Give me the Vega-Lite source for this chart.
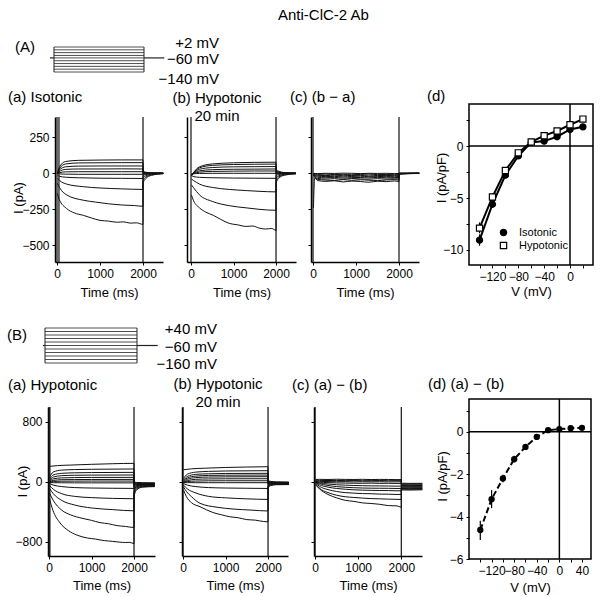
{
"$schema": "https://vega.github.io/schema/vega-lite/v6.json",
"padding": {"left": 7, "top": 8, "right": 2, "bottom": 2},
"title": {"text": "Anti-ClC-2 Ab", "anchor": "start", "frame": "bounds", "dx": 271, "offset": -2, "fontSize": 15, "baseline": "bottom"},
"columns": 4,
"spacing": 0,
"bounds": "flush",
"align": "each",
"datasets": {
"Aa": [
{"k":1,"t":10,"i":0},{"k":1,"t":50,"i":40},{"k":1,"t":200,"i":82},{"k":1,"t":500,"i":90},{"k":1,"t":1000,"i":92},{"k":1,"t":1500,"i":93},{"k":1,"t":2000,"i":93},{"k":1,"t":2001,"i":15},{"k":1,"t":2060,"i":8},{"k":1,"t":2200,"i":3},{"k":1,"t":2470,"i":2},
{"k":2,"t":10,"i":0},{"k":2,"t":50,"i":30},{"k":2,"t":200,"i":65},{"k":2,"t":500,"i":72},{"k":2,"t":1000,"i":73},{"k":2,"t":1500,"i":74},{"k":2,"t":2000,"i":74},{"k":2,"t":2001,"i":10},{"k":2,"t":2060,"i":6},{"k":2,"t":2200,"i":2},{"k":2,"t":2470,"i":1},
{"k":3,"t":10,"i":0},{"k":3,"t":50,"i":22},{"k":3,"t":200,"i":45},{"k":3,"t":500,"i":50},{"k":3,"t":1000,"i":51},{"k":3,"t":1500,"i":51},{"k":3,"t":2000,"i":51},{"k":3,"t":2001,"i":6},{"k":3,"t":2060,"i":4},{"k":3,"t":2200,"i":2},{"k":3,"t":2470,"i":1},
{"k":4,"t":10,"i":0},{"k":4,"t":50,"i":12},{"k":4,"t":200,"i":27},{"k":4,"t":500,"i":30},{"k":4,"t":1000,"i":30},{"k":4,"t":1500,"i":31},{"k":4,"t":2000,"i":30},{"k":4,"t":2001,"i":2},{"k":4,"t":2060,"i":1},{"k":4,"t":2200,"i":1},{"k":4,"t":2470,"i":0},
{"k":5,"t":10,"i":0},{"k":5,"t":50,"i":4},{"k":5,"t":200,"i":10},{"k":5,"t":500,"i":11},{"k":5,"t":1000,"i":11},{"k":5,"t":1500,"i":11},{"k":5,"t":2000,"i":11},{"k":5,"t":2001,"i":-3},{"k":5,"t":2060,"i":-2},{"k":5,"t":2200,"i":-1},{"k":5,"t":2470,"i":0},
{"k":6,"t":10,"i":0},{"k":6,"t":50,"i":-4},{"k":6,"t":200,"i":-6},{"k":6,"t":500,"i":-7},{"k":6,"t":1000,"i":-7},{"k":6,"t":1500,"i":-7},{"k":6,"t":2000,"i":-7},{"k":6,"t":2001,"i":-8},{"k":6,"t":2060,"i":-5},{"k":6,"t":2200,"i":-2},{"k":6,"t":2470,"i":0},
{"k":7,"t":10,"i":-12},{"k":7,"t":50,"i":-20},{"k":7,"t":200,"i":-27},{"k":7,"t":500,"i":-31},{"k":7,"t":1000,"i":-34},{"k":7,"t":1500,"i":-35},{"k":7,"t":2000,"i":-36},{"k":7,"t":2001,"i":-15},{"k":7,"t":2060,"i":-9},{"k":7,"t":2200,"i":-3},{"k":7,"t":2470,"i":-1},
{"k":8,"t":10,"i":-35},{"k":8,"t":60,"i":-50},{"k":8,"t":225,"i":-75},{"k":8,"t":612,"i":-93},{"k":8,"t":1000,"i":-102},{"k":8,"t":1500,"i":-108},{"k":8,"t":2000,"i":-112},{"k":8,"t":2001,"i":-30},{"k":8,"t":2060,"i":-18},{"k":8,"t":2200,"i":-6},{"k":8,"t":2470,"i":-1},
{"k":9,"t":10,"i":-70},{"k":9,"t":60,"i":-100},{"k":9,"t":225,"i":-150},{"k":9,"t":612,"i":-187},{"k":9,"t":900,"i":-200},{"k":9,"t":1200,"i":-212},{"k":9,"t":1500,"i":-220},{"k":9,"t":1800,"i":-224},{"k":9,"t":2000,"i":-229},{"k":9,"t":2001,"i":-50},{"k":9,"t":2060,"i":-28},{"k":9,"t":2200,"i":-10},{"k":9,"t":2470,"i":-2},
{"k":10,"t":10,"i":-140},{"k":10,"t":50,"i":-180},{"k":10,"t":225,"i":-245},{"k":10,"t":400,"i":-275},{"k":10,"t":612,"i":-292},{"k":10,"t":800,"i":-310},{"k":10,"t":1000,"i":-327},{"k":10,"t":1200,"i":-332},{"k":10,"t":1400,"i":-340},{"k":10,"t":1550,"i":-337},{"k":10,"t":1700,"i":-346},{"k":10,"t":1850,"i":-344},{"k":10,"t":2000,"i":-355},{"k":10,"t":2001,"i":-70},{"k":10,"t":2060,"i":-38},{"k":10,"t":2200,"i":-14},{"k":10,"t":2470,"i":-3}
],
"Ab": [
{"k":1,"t":10,"i":-20},{"k":1,"t":50,"i":0},{"k":1,"t":200,"i":45},{"k":1,"t":500,"i":65},{"k":1,"t":1000,"i":73},{"k":1,"t":1500,"i":76},{"k":1,"t":2000,"i":77},{"k":1,"t":2001,"i":28},{"k":1,"t":2060,"i":15},{"k":1,"t":2200,"i":5},{"k":1,"t":2470,"i":2},
{"k":2,"t":10,"i":-15},{"k":2,"t":50,"i":0},{"k":2,"t":200,"i":38},{"k":2,"t":500,"i":55},{"k":2,"t":1000,"i":61},{"k":2,"t":1500,"i":63},{"k":2,"t":2000,"i":64},{"k":2,"t":2001,"i":20},{"k":2,"t":2060,"i":10},{"k":2,"t":2200,"i":4},{"k":2,"t":2470,"i":1},
{"k":3,"t":10,"i":-12},{"k":3,"t":50,"i":0},{"k":3,"t":200,"i":28},{"k":3,"t":500,"i":40},{"k":3,"t":1000,"i":45},{"k":3,"t":1500,"i":46},{"k":3,"t":2000,"i":47},{"k":3,"t":2001,"i":12},{"k":3,"t":2060,"i":6},{"k":3,"t":2200,"i":2},{"k":3,"t":2470,"i":1},
{"k":4,"t":10,"i":-10},{"k":4,"t":50,"i":-2},{"k":4,"t":200,"i":17},{"k":4,"t":500,"i":25},{"k":4,"t":1000,"i":28},{"k":4,"t":1500,"i":29},{"k":4,"t":2000,"i":30},{"k":4,"t":2001,"i":5},{"k":4,"t":2060,"i":3},{"k":4,"t":2200,"i":1},{"k":4,"t":2470,"i":0},
{"k":5,"t":10,"i":-8},{"k":5,"t":50,"i":-3},{"k":5,"t":200,"i":8},{"k":5,"t":500,"i":13},{"k":5,"t":1000,"i":15},{"k":5,"t":1500,"i":16},{"k":5,"t":2000,"i":16},{"k":5,"t":2001,"i":0},{"k":5,"t":2060,"i":0},{"k":5,"t":2200,"i":0},{"k":5,"t":2470,"i":0},
{"k":6,"t":10,"i":-6},{"k":6,"t":50,"i":-4},{"k":6,"t":200,"i":-1},{"k":6,"t":500,"i":0},{"k":6,"t":1000,"i":0},{"k":6,"t":1500,"i":0},{"k":6,"t":2000,"i":0},{"k":6,"t":2001,"i":-6},{"k":6,"t":2060,"i":-3},{"k":6,"t":2200,"i":-1},{"k":6,"t":2470,"i":0},
{"k":7,"t":10,"i":-15},{"k":7,"t":50,"i":-22},{"k":7,"t":200,"i":-28},{"k":7,"t":500,"i":-31},{"k":7,"t":1000,"i":-33},{"k":7,"t":1500,"i":-34},{"k":7,"t":2000,"i":-35},{"k":7,"t":2001,"i":-15},{"k":7,"t":2060,"i":-9},{"k":7,"t":2200,"i":-3},{"k":7,"t":2470,"i":-1},
{"k":8,"t":10,"i":-40},{"k":8,"t":60,"i":-50},{"k":8,"t":200,"i":-75},{"k":8,"t":500,"i":-98},{"k":8,"t":900,"i":-112},{"k":8,"t":1300,"i":-120},{"k":8,"t":1600,"i":-125},{"k":8,"t":2000,"i":-129},{"k":8,"t":2001,"i":-32},{"k":8,"t":2060,"i":-18},{"k":8,"t":2200,"i":-7},{"k":8,"t":2470,"i":-2},
{"k":9,"t":10,"i":-80},{"k":9,"t":60,"i":-100},{"k":9,"t":200,"i":-150},{"k":9,"t":500,"i":-195},{"k":9,"t":900,"i":-225},{"k":9,"t":1300,"i":-240},{"k":9,"t":1600,"i":-250},{"k":9,"t":2000,"i":-257},{"k":9,"t":2001,"i":-48},{"k":9,"t":2060,"i":-26},{"k":9,"t":2200,"i":-10},{"k":9,"t":2470,"i":-3},
{"k":10,"t":10,"i":-150},{"k":10,"t":60,"i":-190},{"k":10,"t":200,"i":-240},{"k":10,"t":350,"i":-270},{"k":10,"t":525,"i":-292},{"k":10,"t":700,"i":-320},{"k":10,"t":900,"i":-348},{"k":10,"t":1100,"i":-358},{"k":10,"t":1300,"i":-369},{"k":10,"t":1450,"i":-366},{"k":10,"t":1600,"i":-380},{"k":10,"t":1750,"i":-387},{"k":10,"t":1900,"i":-383},{"k":10,"t":2000,"i":-397},{"k":10,"t":2001,"i":-68},{"k":10,"t":2060,"i":-36},{"k":10,"t":2200,"i":-13},{"k":10,"t":2470,"i":-3}
],
"Ac": [
{"k":1,"t":10,"i":0},{"k":1,"t":100,"i":-2},{"k":1,"t":300,"i":0},{"k":1,"t":500,"i":-1},{"k":1,"t":700,"i":1},{"k":1,"t":900,"i":0},{"k":1,"t":1100,"i":-2},{"k":1,"t":1300,"i":0},{"k":1,"t":1500,"i":-1},{"k":1,"t":1700,"i":0},{"k":1,"t":1900,"i":-2},{"k":1,"t":2000,"i":-1},{"k":1,"t":2001,"i":2},{"k":1,"t":2200,"i":1},{"k":1,"t":2470,"i":2},
{"k":2,"t":10,"i":-3},{"k":2,"t":100,"i":-8},{"k":2,"t":300,"i":-6},{"k":2,"t":500,"i":-9},{"k":2,"t":700,"i":-7},{"k":2,"t":900,"i":-10},{"k":2,"t":1100,"i":-8},{"k":2,"t":1300,"i":-6},{"k":2,"t":1500,"i":-9},{"k":2,"t":1700,"i":-8},{"k":2,"t":1900,"i":-10},{"k":2,"t":2000,"i":-8},{"k":2,"t":2001,"i":0},{"k":2,"t":2200,"i":1},{"k":2,"t":2470,"i":0},
{"k":3,"t":10,"i":-5},{"k":3,"t":100,"i":-14},{"k":3,"t":300,"i":-16},{"k":3,"t":500,"i":-13},{"k":3,"t":700,"i":-17},{"k":3,"t":900,"i":-15},{"k":3,"t":1100,"i":-14},{"k":3,"t":1300,"i":-18},{"k":3,"t":1500,"i":-15},{"k":3,"t":1700,"i":-16},{"k":3,"t":1900,"i":-14},{"k":3,"t":2000,"i":-17},{"k":3,"t":2001,"i":-1},{"k":3,"t":2200,"i":0},{"k":3,"t":2470,"i":0},
{"k":4,"t":10,"i":-6},{"k":4,"t":100,"i":-20},{"k":4,"t":300,"i":-23},{"k":4,"t":500,"i":-21},{"k":4,"t":700,"i":-25},{"k":4,"t":900,"i":-22},{"k":4,"t":1100,"i":-20},{"k":4,"t":1300,"i":-24},{"k":4,"t":1500,"i":-23},{"k":4,"t":1700,"i":-21},{"k":4,"t":1900,"i":-24},{"k":4,"t":2000,"i":-22},{"k":4,"t":2001,"i":-2},{"k":4,"t":2200,"i":0},{"k":4,"t":2470,"i":1},
{"k":5,"t":10,"i":-8},{"k":5,"t":100,"i":-27},{"k":5,"t":300,"i":-31},{"k":5,"t":500,"i":-28},{"k":5,"t":700,"i":-33},{"k":5,"t":900,"i":-30},{"k":5,"t":1100,"i":-29},{"k":5,"t":1300,"i":-32},{"k":5,"t":1500,"i":-28},{"k":5,"t":1700,"i":-31},{"k":5,"t":1900,"i":-30},{"k":5,"t":2000,"i":-29},{"k":5,"t":2001,"i":-3},{"k":5,"t":2200,"i":-1},{"k":5,"t":2470,"i":0},
{"k":6,"t":10,"i":-10},{"k":6,"t":100,"i":-35},{"k":6,"t":300,"i":-40},{"k":6,"t":500,"i":-37},{"k":6,"t":700,"i":-42},{"k":6,"t":900,"i":-36},{"k":6,"t":1100,"i":-39},{"k":6,"t":1300,"i":-41},{"k":6,"t":1500,"i":-37},{"k":6,"t":1700,"i":-40},{"k":6,"t":1900,"i":-38},{"k":6,"t":2000,"i":-39},{"k":6,"t":2001,"i":-4},{"k":6,"t":2200,"i":-2},{"k":6,"t":2470,"i":0},
{"k":7,"t":10,"i":-12},{"k":7,"t":100,"i":-42},{"k":7,"t":300,"i":-47},{"k":7,"t":500,"i":-50},{"k":7,"t":700,"i":-44},{"k":7,"t":900,"i":-49},{"k":7,"t":1100,"i":-45},{"k":7,"t":1300,"i":-48},{"k":7,"t":1500,"i":-51},{"k":7,"t":1700,"i":-46},{"k":7,"t":1900,"i":-44},{"k":7,"t":2000,"i":-47},{"k":7,"t":2001,"i":-5},{"k":7,"t":2200,"i":-2},{"k":7,"t":2470,"i":-1},
{"k":8,"t":10,"i":-240},{"k":8,"t":40,"i":-30},{"k":8,"t":100,"i":-50},{"k":8,"t":300,"i":-56},{"k":8,"t":500,"i":-52},{"k":8,"t":700,"i":-60},{"k":8,"t":900,"i":-54},{"k":8,"t":1100,"i":-57},{"k":8,"t":1300,"i":-62},{"k":8,"t":1500,"i":-55},{"k":8,"t":1700,"i":-58},{"k":8,"t":1900,"i":-53},{"k":8,"t":2000,"i":-57},{"k":8,"t":2001,"i":-6},{"k":8,"t":2200,"i":-3},{"k":8,"t":2470,"i":-1}
],
"Ba": [
{"k":1,"t":10,"i":205},{"k":1,"t":200,"i":215},{"k":1,"t":500,"i":222},{"k":1,"t":1000,"i":232},{"k":1,"t":1500,"i":240},{"k":1,"t":2000,"i":245},{"k":1,"t":2001,"i":-5},{"k":1,"t":2060,"i":-10},{"k":1,"t":2200,"i":-14},{"k":1,"t":2490,"i":-15},
{"k":2,"t":10,"i":60},{"k":2,"t":100,"i":130},{"k":2,"t":300,"i":155},{"k":2,"t":600,"i":162},{"k":2,"t":1000,"i":166},{"k":2,"t":2000,"i":170},{"k":2,"t":2001,"i":-15},{"k":2,"t":2060,"i":-15},{"k":2,"t":2200,"i":-18},{"k":2,"t":2490,"i":-20},
{"k":3,"t":10,"i":30},{"k":3,"t":100,"i":90},{"k":3,"t":300,"i":112},{"k":3,"t":600,"i":119},{"k":3,"t":1000,"i":122},{"k":3,"t":2000,"i":125},{"k":3,"t":2001,"i":-25},{"k":3,"t":2060,"i":-20},{"k":3,"t":2200,"i":-22},{"k":3,"t":2490,"i":-24},
{"k":4,"t":10,"i":15},{"k":4,"t":100,"i":62},{"k":4,"t":300,"i":81},{"k":4,"t":600,"i":86},{"k":4,"t":1000,"i":88},{"k":4,"t":2000,"i":90},{"k":4,"t":2001,"i":-35},{"k":4,"t":2060,"i":-26},{"k":4,"t":2200,"i":-26},{"k":4,"t":2490,"i":-28},
{"k":5,"t":10,"i":5},{"k":5,"t":100,"i":38},{"k":5,"t":300,"i":51},{"k":5,"t":600,"i":55},{"k":5,"t":1000,"i":57},{"k":5,"t":2000,"i":58},{"k":5,"t":2001,"i":-45},{"k":5,"t":2060,"i":-32},{"k":5,"t":2200,"i":-30},{"k":5,"t":2490,"i":-32},
{"k":6,"t":10,"i":0},{"k":6,"t":100,"i":18},{"k":6,"t":300,"i":27},{"k":6,"t":600,"i":29},{"k":6,"t":1000,"i":30},{"k":6,"t":2000,"i":31},{"k":6,"t":2001,"i":-55},{"k":6,"t":2060,"i":-38},{"k":6,"t":2200,"i":-34},{"k":6,"t":2490,"i":-35},
{"k":7,"t":10,"i":-5},{"k":7,"t":100,"i":4},{"k":7,"t":300,"i":7},{"k":7,"t":600,"i":8},{"k":7,"t":1000,"i":9},{"k":7,"t":2000,"i":9},{"k":7,"t":2001,"i":-70},{"k":7,"t":2060,"i":-44},{"k":7,"t":2200,"i":-38},{"k":7,"t":2490,"i":-39},
{"k":8,"t":10,"i":-10},{"k":8,"t":100,"i":-13},{"k":8,"t":300,"i":-14},{"k":8,"t":600,"i":-15},{"k":8,"t":1000,"i":-15},{"k":8,"t":2000,"i":-15},{"k":8,"t":2001,"i":-85},{"k":8,"t":2060,"i":-52},{"k":8,"t":2200,"i":-42},{"k":8,"t":2490,"i":-43},
{"k":9,"t":10,"i":-25},{"k":9,"t":100,"i":-45},{"k":9,"t":300,"i":-65},{"k":9,"t":600,"i":-78},{"k":9,"t":1000,"i":-84},{"k":9,"t":1500,"i":-87},{"k":9,"t":2000,"i":-89},{"k":9,"t":2001,"i":-100},{"k":9,"t":2060,"i":-60},{"k":9,"t":2200,"i":-47},{"k":9,"t":2490,"i":-47},
{"k":10,"t":10,"i":-50},{"k":10,"t":100,"i":-100},{"k":10,"t":300,"i":-160},{"k":10,"t":600,"i":-195},{"k":10,"t":1000,"i":-212},{"k":10,"t":1500,"i":-222},{"k":10,"t":2000,"i":-227},{"k":10,"t":2001,"i":-120},{"k":10,"t":2060,"i":-70},{"k":10,"t":2200,"i":-53},{"k":10,"t":2490,"i":-52},
{"k":11,"t":10,"i":-90},{"k":11,"t":100,"i":-160},{"k":11,"t":300,"i":-250},{"k":11,"t":600,"i":-310},{"k":11,"t":1000,"i":-350},{"k":11,"t":1500,"i":-372},{"k":11,"t":2000,"i":-388},{"k":11,"t":2001,"i":-145},{"k":11,"t":2060,"i":-82},{"k":11,"t":2200,"i":-59},{"k":11,"t":2490,"i":-56},
{"k":12,"t":10,"i":-150},{"k":12,"t":100,"i":-250},{"k":12,"t":300,"i":-380},{"k":12,"t":500,"i":-440},{"k":12,"t":800,"i":-490},{"k":12,"t":1000,"i":-515},{"k":12,"t":1200,"i":-545},{"k":12,"t":1400,"i":-560},{"k":12,"t":1600,"i":-585},{"k":12,"t":1800,"i":-596},{"k":12,"t":2000,"i":-610},{"k":12,"t":2001,"i":-170},{"k":12,"t":2060,"i":-95},{"k":12,"t":2200,"i":-66},{"k":12,"t":2490,"i":-60},
{"k":13,"t":10,"i":-230},{"k":13,"t":90,"i":-380},{"k":13,"t":260,"i":-550},{"k":13,"t":450,"i":-650},{"k":13,"t":650,"i":-710},{"k":13,"t":900,"i":-750},{"k":13,"t":1100,"i":-765},{"k":13,"t":1300,"i":-785},{"k":13,"t":1500,"i":-795},{"k":13,"t":1650,"i":-805},{"k":13,"t":1800,"i":-810},{"k":13,"t":1900,"i":-808},{"k":13,"t":2000,"i":-825},{"k":13,"t":2001,"i":-200},{"k":13,"t":2060,"i":-110},{"k":13,"t":2200,"i":-73},{"k":13,"t":2490,"i":-65}
],
"Bb": [
{"k":1,"t":10,"i":160},{"k":1,"t":200,"i":172},{"k":1,"t":500,"i":180},{"k":1,"t":1000,"i":190},{"k":1,"t":1500,"i":196},{"k":1,"t":2000,"i":200},{"k":1,"t":2001,"i":20},{"k":1,"t":2060,"i":5},{"k":1,"t":2200,"i":-3},{"k":1,"t":2490,"i":-5},
{"k":2,"t":10,"i":40},{"k":2,"t":100,"i":100},{"k":2,"t":300,"i":128},{"k":2,"t":600,"i":138},{"k":2,"t":1000,"i":143},{"k":2,"t":2000,"i":147},{"k":2,"t":2001,"i":10},{"k":2,"t":2060,"i":0},{"k":2,"t":2200,"i":-6},{"k":2,"t":2490,"i":-8},
{"k":3,"t":10,"i":20},{"k":3,"t":100,"i":70},{"k":3,"t":300,"i":98},{"k":3,"t":600,"i":106},{"k":3,"t":1000,"i":110},{"k":3,"t":2000,"i":112},{"k":3,"t":2001,"i":0},{"k":3,"t":2060,"i":-5},{"k":3,"t":2200,"i":-9},{"k":3,"t":2490,"i":-11},
{"k":4,"t":10,"i":10},{"k":4,"t":100,"i":50},{"k":4,"t":300,"i":75},{"k":4,"t":600,"i":84},{"k":4,"t":1000,"i":87},{"k":4,"t":2000,"i":89},{"k":4,"t":2001,"i":-8},{"k":4,"t":2060,"i":-10},{"k":4,"t":2200,"i":-12},{"k":4,"t":2490,"i":-14},
{"k":5,"t":10,"i":0},{"k":5,"t":100,"i":32},{"k":5,"t":300,"i":55},{"k":5,"t":600,"i":62},{"k":5,"t":1000,"i":65},{"k":5,"t":2000,"i":67},{"k":5,"t":2001,"i":-15},{"k":5,"t":2060,"i":-14},{"k":5,"t":2200,"i":-15},{"k":5,"t":2490,"i":-17},
{"k":6,"t":10,"i":-5},{"k":6,"t":100,"i":15},{"k":6,"t":300,"i":32},{"k":6,"t":600,"i":37},{"k":6,"t":1000,"i":39},{"k":6,"t":2000,"i":40},{"k":6,"t":2001,"i":-22},{"k":6,"t":2060,"i":-18},{"k":6,"t":2200,"i":-18},{"k":6,"t":2490,"i":-20},
{"k":7,"t":10,"i":-10},{"k":7,"t":100,"i":2},{"k":7,"t":300,"i":9},{"k":7,"t":600,"i":12},{"k":7,"t":1000,"i":13},{"k":7,"t":2000,"i":13},{"k":7,"t":2001,"i":-30},{"k":7,"t":2060,"i":-22},{"k":7,"t":2200,"i":-21},{"k":7,"t":2490,"i":-23},
{"k":8,"t":10,"i":-12},{"k":8,"t":100,"i":-12},{"k":8,"t":300,"i":-13},{"k":8,"t":600,"i":-13},{"k":8,"t":1000,"i":-13},{"k":8,"t":2000,"i":-13},{"k":8,"t":2001,"i":-38},{"k":8,"t":2060,"i":-27},{"k":8,"t":2200,"i":-24},{"k":8,"t":2490,"i":-26},
{"k":9,"t":10,"i":-25},{"k":9,"t":100,"i":-45},{"k":9,"t":300,"i":-65},{"k":9,"t":600,"i":-78},{"k":9,"t":1000,"i":-84},{"k":9,"t":1500,"i":-87},{"k":9,"t":2000,"i":-90},{"k":9,"t":2001,"i":-48},{"k":9,"t":2060,"i":-32},{"k":9,"t":2200,"i":-28},{"k":9,"t":2490,"i":-29},
{"k":10,"t":10,"i":-45},{"k":10,"t":100,"i":-95},{"k":10,"t":300,"i":-150},{"k":10,"t":600,"i":-195},{"k":10,"t":1000,"i":-215},{"k":10,"t":1500,"i":-228},{"k":10,"t":2000,"i":-236},{"k":10,"t":2001,"i":-60},{"k":10,"t":2060,"i":-38},{"k":10,"t":2200,"i":-32},{"k":10,"t":2490,"i":-32},
{"k":11,"t":10,"i":-70},{"k":11,"t":80,"i":-130},{"k":11,"t":200,"i":-200},{"k":11,"t":400,"i":-288},{"k":11,"t":800,"i":-340},{"k":11,"t":1200,"i":-365},{"k":11,"t":1600,"i":-378},{"k":11,"t":2000,"i":-390},{"k":11,"t":2001,"i":-75},{"k":11,"t":2060,"i":-45},{"k":11,"t":2200,"i":-36},{"k":11,"t":2490,"i":-35},
{"k":12,"t":10,"i":-110},{"k":12,"t":80,"i":-200},{"k":12,"t":200,"i":-280},{"k":12,"t":400,"i":-333},{"k":12,"t":700,"i":-410},{"k":12,"t":900,"i":-440},{"k":12,"t":1100,"i":-467},{"k":12,"t":1300,"i":-480},{"k":12,"t":1500,"i":-505},{"k":12,"t":1700,"i":-512},{"k":12,"t":1800,"i":-522},{"k":12,"t":2000,"i":-535},{"k":12,"t":2001,"i":-90},{"k":12,"t":2060,"i":-52},{"k":12,"t":2200,"i":-40},{"k":12,"t":2490,"i":-38}
],
"Bc": [
{"k":1,"t":10,"i":30},{"k":1,"t":100,"i":32},{"k":1,"t":300,"i":30},{"k":1,"t":500,"i":33},{"k":1,"t":700,"i":31},{"k":1,"t":900,"i":30},{"k":1,"t":1100,"i":32},{"k":1,"t":1300,"i":29},{"k":1,"t":1500,"i":31},{"k":1,"t":1700,"i":30},{"k":1,"t":1900,"i":28},{"k":1,"t":2000,"i":29},{"k":1,"t":2001,"i":-20},{"k":1,"t":2200,"i":-22},{"k":1,"t":2490,"i":-21},
{"k":2,"t":10,"i":20},{"k":2,"t":100,"i":18},{"k":2,"t":300,"i":16},{"k":2,"t":500,"i":17},{"k":2,"t":700,"i":15},{"k":2,"t":900,"i":16},{"k":2,"t":1100,"i":14},{"k":2,"t":1300,"i":15},{"k":2,"t":1500,"i":16},{"k":2,"t":1700,"i":14},{"k":2,"t":1900,"i":15},{"k":2,"t":2000,"i":14},{"k":2,"t":2001,"i":-30},{"k":2,"t":2200,"i":-31},{"k":2,"t":2490,"i":-30},
{"k":3,"t":10,"i":10},{"k":3,"t":100,"i":5},{"k":3,"t":300,"i":2},{"k":3,"t":500,"i":0},{"k":3,"t":700,"i":1},{"k":3,"t":900,"i":-2},{"k":3,"t":1100,"i":0},{"k":3,"t":1300,"i":-1},{"k":3,"t":1500,"i":0},{"k":3,"t":1700,"i":-2},{"k":3,"t":1900,"i":-1},{"k":3,"t":2000,"i":0},{"k":3,"t":2001,"i":-40},{"k":3,"t":2200,"i":-42},{"k":3,"t":2490,"i":-41},
{"k":4,"t":10,"i":5},{"k":4,"t":100,"i":-5},{"k":4,"t":300,"i":-12},{"k":4,"t":500,"i":-16},{"k":4,"t":700,"i":-18},{"k":4,"t":900,"i":-20},{"k":4,"t":1100,"i":-21},{"k":4,"t":1300,"i":-19},{"k":4,"t":1500,"i":-22},{"k":4,"t":1700,"i":-21},{"k":4,"t":1900,"i":-23},{"k":4,"t":2000,"i":-22},{"k":4,"t":2001,"i":-50},{"k":4,"t":2200,"i":-52},{"k":4,"t":2490,"i":-50},
{"k":5,"t":10,"i":0},{"k":5,"t":100,"i":-15},{"k":5,"t":300,"i":-30},{"k":5,"t":500,"i":-40},{"k":5,"t":700,"i":-46},{"k":5,"t":900,"i":-50},{"k":5,"t":1100,"i":-53},{"k":5,"t":1300,"i":-55},{"k":5,"t":1500,"i":-56},{"k":5,"t":1700,"i":-57},{"k":5,"t":1900,"i":-59},{"k":5,"t":2000,"i":-58},{"k":5,"t":2001,"i":-60},{"k":5,"t":2200,"i":-62},{"k":5,"t":2490,"i":-61},
{"k":6,"t":10,"i":-5},{"k":6,"t":100,"i":-25},{"k":6,"t":300,"i":-50},{"k":6,"t":500,"i":-65},{"k":6,"t":700,"i":-74},{"k":6,"t":900,"i":-80},{"k":6,"t":1100,"i":-84},{"k":6,"t":1300,"i":-86},{"k":6,"t":1500,"i":-87},{"k":6,"t":1700,"i":-88},{"k":6,"t":1900,"i":-90},{"k":6,"t":2000,"i":-89},{"k":6,"t":2001,"i":-70},{"k":6,"t":2200,"i":-72},{"k":6,"t":2490,"i":-71},
{"k":7,"t":10,"i":-10},{"k":7,"t":100,"i":-40},{"k":7,"t":300,"i":-72},{"k":7,"t":500,"i":-90},{"k":7,"t":700,"i":-100},{"k":7,"t":900,"i":-108},{"k":7,"t":1100,"i":-112},{"k":7,"t":1300,"i":-115},{"k":7,"t":1500,"i":-117},{"k":7,"t":1700,"i":-118},{"k":7,"t":1900,"i":-121},{"k":7,"t":2000,"i":-120},{"k":7,"t":2001,"i":-80},{"k":7,"t":2200,"i":-82},{"k":7,"t":2490,"i":-80},
{"k":8,"t":10,"i":-15},{"k":8,"t":100,"i":-60},{"k":8,"t":300,"i":-105},{"k":8,"t":500,"i":-130},{"k":8,"t":700,"i":-145},{"k":8,"t":900,"i":-152},{"k":8,"t":1100,"i":-158},{"k":8,"t":1300,"i":-160},{"k":8,"t":1500,"i":-165},{"k":8,"t":1700,"i":-166},{"k":8,"t":1900,"i":-170},{"k":8,"t":2000,"i":-169},{"k":8,"t":2001,"i":-90},{"k":8,"t":2200,"i":-92},{"k":8,"t":2490,"i":-90},
{"k":9,"t":10,"i":-25},{"k":9,"t":100,"i":-85},{"k":9,"t":300,"i":-145},{"k":9,"t":500,"i":-180},{"k":9,"t":700,"i":-200},{"k":9,"t":900,"i":-210},{"k":9,"t":1100,"i":-218},{"k":9,"t":1300,"i":-225},{"k":9,"t":1500,"i":-228},{"k":9,"t":1700,"i":-232},{"k":9,"t":1900,"i":-235},{"k":9,"t":2000,"i":-236},{"k":9,"t":2001,"i":-100},{"k":9,"t":2200,"i":-101},{"k":9,"t":2490,"i":-100},
{"k":10,"t":10,"i":-40},{"k":10,"t":100,"i":-95},{"k":10,"t":300,"i":-170},{"k":10,"t":500,"i":-215},{"k":10,"t":700,"i":-248},{"k":10,"t":900,"i":-262},{"k":10,"t":1100,"i":-282},{"k":10,"t":1300,"i":-290},{"k":10,"t":1500,"i":-301},{"k":10,"t":1700,"i":-318},{"k":10,"t":1900,"i":-322},{"k":10,"t":2000,"i":-340},{"k":10,"t":2001,"i":-110},{"k":10,"t":2200,"i":-111},{"k":10,"t":2490,"i":-108}
],
"Ad": [
{"g":"Isotonic","V":-140,"I":-9.05,"lo":-9.6,"hi":-8.5},{"g":"Isotonic","V":-120,"I":-5.6,"lo":-5.95,"hi":-5.25},{"g":"Isotonic","V":-100,"I":-2.8,"lo":-3.05,"hi":-2.55},{"g":"Isotonic","V":-80,"I":-0.95,"lo":-1.1,"hi":-0.8},{"g":"Isotonic","V":-60,"I":0.35,"lo":0.25,"hi":0.45},{"g":"Isotonic","V":-40,"I":0.48,"lo":0.35,"hi":0.6},{"g":"Isotonic","V":-20,"I":0.9,"lo":0.8,"hi":1.0},{"g":"Isotonic","V":0,"I":1.6,"lo":1.5,"hi":1.7},{"g":"Isotonic","V":20,"I":1.85,"lo":1.75,"hi":1.95},
{"g":"Hypotonic","V":-140,"I":-7.9,"lo":-8.4,"hi":-7.35},{"g":"Hypotonic","V":-120,"I":-4.9,"lo":-5.2,"hi":-4.55},{"g":"Hypotonic","V":-100,"I":-2.35,"lo":-2.55,"hi":-2.15},{"g":"Hypotonic","V":-80,"I":-0.65,"lo":-0.8,"hi":-0.5},{"g":"Hypotonic","V":-60,"I":0.4,"lo":0.3,"hi":0.5},{"g":"Hypotonic","V":-40,"I":1.0,"lo":0.9,"hi":1.1},{"g":"Hypotonic","V":-20,"I":1.45,"lo":1.35,"hi":1.55},{"g":"Hypotonic","V":0,"I":2.05,"lo":1.95,"hi":2.15},{"g":"Hypotonic","V":20,"I":2.6,"lo":2.45,"hi":2.75}
],
"Bd": [
{"V":-140,"I":-4.63,"lo":-5.1,"hi":-4.2},{"V":-120,"I":-3.18,"lo":-3.6,"hi":-2.75},{"V":-100,"I":-2.2,"lo":-2.38,"hi":-2.02},{"V":-80,"I":-1.29,"lo":-1.45,"hi":-1.13},{"V":-60,"I":-0.71,"lo":-0.84,"hi":-0.58},{"V":-40,"I":-0.24,"lo":-0.34,"hi":-0.14},{"V":-20,"I":0.08,"lo":0.03,"hi":0.13},{"V":0,"I":0.13,"lo":0.08,"hi":0.18},{"V":20,"I":0.17,"lo":0.12,"hi":0.22},{"V":40,"I":0.19,"lo":0.14,"hi":0.24}
]
},
"concat": [
{
"width": 100, "height": 66,
"layer": [
{"data": {"values": [{"v":2},{"v":-14},{"v":-30},{"v":-46},{"v":-60},{"v":-76},{"v":-92},{"v":-108},{"v":-124},{"v":-140}]},
 "mark": {"type": "rule", "stroke": "#222", "strokeWidth": 0.8},
 "encoding": {"x": {"datum": 0, "type": "quantitative", "scale": {"domain": [-133, 3667], "range": [0, 171]}, "axis": null}, "x2": {"datum": 2000},
  "y": {"field": "v", "type": "quantitative", "scale": {"domain": [-140, 2], "range": [34, 9]}, "axis": null}}},
{"data": {"values": [{"t":0},{"t":2000}]},
 "mark": {"type": "rule", "stroke": "#222", "strokeWidth": 1},
 "encoding": {"x": {"field": "t", "type": "quantitative", "scale": {"domain": [-133, 3667], "range": [0, 171]}, "axis": null},
  "y": {"datum": -140, "type": "quantitative", "scale": {"domain": [-140, 2], "range": [34, 9]}, "axis": null}, "y2": {"datum": 2}}},
{"data": {"values": [{"t":-90,"t2":0},{"t":2000,"t2":2450}]},
 "mark": {"type": "rule", "stroke": "#222", "strokeWidth": 1.2},
 "encoding": {"x": {"field": "t", "type": "quantitative", "scale": {"domain": [-133, 3667], "range": [0, 171]}, "axis": null}, "x2": {"field": "t2"},
  "y": {"datum": -60, "type": "quantitative", "scale": {"domain": [-140, 2], "range": [34, 9]}, "axis": null}}},
{"data": {"values": [{"t":-867,"v":2,"s":"(A)"}]},
 "mark": {"type": "text", "align": "left", "baseline": "middle", "fontSize": 15},
 "encoding": {"x": {"field": "t", "type": "quantitative", "scale": {"domain": [-133, 3667], "range": [0, 171]}, "axis": null},
  "y": {"field": "v", "type": "quantitative", "scale": {"domain": [-140, 2], "range": [34, 9]}, "axis": null}, "text": {"field": "s"}}},
{"data": {"values": [{"v":2,"s":"+2 mV"},{"v":-60,"s":"−60 mV"},{"v":-140,"s":"−140 mV"}]},
 "mark": {"type": "text", "align": "right", "baseline": "middle", "fontSize": 15},
 "encoding": {"x": {"datum": 3667, "type": "quantitative", "scale": {"domain": [-133, 3667], "range": [0, 171]}, "axis": null},
  "y": {"field": "v", "type": "quantitative", "scale": {"domain": [-140, 2], "range": [41, 5]}, "axis": null}, "text": {"field": "s"}}}
],
"resolve": {"scale": {"y": "independent"}}
},
{"width": 1, "height": 1, "data": {"values": []}, "mark": "point"},
{"width": 1, "height": 1, "data": {"values": []}, "mark": "point"},
{"width": 1, "height": 1, "data": {"values": []}, "mark": "point"},
{
"width": 134, "height": 158,
"title": {"text": "(a) Isotonic", "dx": -40, "offset": -1},
"layer": [
{"data": {"values": [{"t":0},{"t":45},{"t":2000}]}, "mark": {"type": "rule", "stroke": "#111", "strokeWidth": 1.2},
 "encoding": {"x": {"field": "t", "type": "quantitative"}, "y": {"datum": 391}, "y2": {"datum": -616}}},
{"data": {"name": "Aa"}, "mark": {"type": "line", "stroke": "#111", "strokeWidth": 1, "interpolate": "monotone"},
 "encoding": {
  "x": {"field": "t", "type": "quantitative", "scale": {"domain": [-47, 2465], "range": [7, 115], "nice": false, "zero": false},
   "axis": {"values": [0,250,500,750,1000,1250,1500,1750,2000,2250], "format": "d", "labelSeparation": -40, "labelExpr": "datum.value % 1000 === 0 ? datum.label : ''", "title": "Time (ms)", "titleY": 30, "titleBaseline": "middle"}},
  "y": {"field": "i", "type": "quantitative", "scale": {"domain": [-616, 391], "range": [158, 13], "nice": false, "zero": false},
   "axis": {"values": [-500,-375,-250,-125,0,125,250,375], "labelSeparation": -40, "labelExpr": "datum.value % 250 === 0 ? datum.label : ''", "title": "I (pA)", "offset": -7, "titleX": -37, "titleY": 93.5, "titleBaseline": "middle"}},
  "detail": {"field": "k", "type": "nominal"}}}
]
},
{
"width": 129, "height": 158,
"title": {"text": ["(b) Hypotonic", "20 min"], "anchor": "middle", "dx": -29.5, "offset": -19.5},
"layer": [
{"data": {"values": [{"t":0},{"t":2000}]}, "mark": {"type": "rule", "stroke": "#111", "strokeWidth": 1.2},
 "encoding": {"x": {"field": "t", "type": "quantitative"}, "y": {"datum": 391}, "y2": {"datum": -616}}},
{"data": {"name": "Ab"}, "mark": {"type": "line", "stroke": "#111", "strokeWidth": 1, "interpolate": "monotone"},
 "encoding": {
  "x": {"field": "t", "type": "quantitative", "scale": {"domain": [-94, 2470], "range": [5, 114], "nice": false, "zero": false},
   "axis": {"values": [0,250,500,750,1000,1250,1500,1750,2000,2250], "format": "d", "labelSeparation": -40, "labelExpr": "datum.value % 1000 === 0 ? datum.label : ''", "title": "Time (ms)", "titleY": 30, "titleBaseline": "middle"}},
  "y": {"field": "i", "type": "quantitative", "scale": {"domain": [-616, 391], "range": [158, 13], "nice": false, "zero": false},
   "axis": {"values": [-500,-375,-250,-125,0,125,250,375], "labels": false, "title": null, "offset": -5}},
  "detail": {"field": "k", "type": "nominal"}}}
]
},
{
"width": 158, "height": 158,
"title": {"text": "(c) (b − a)", "dx": -21, "offset": -1},
"layer": [
{"data": {"values": [{"t":0},{"t":2000}]}, "mark": {"type": "rule", "stroke": "#111", "strokeWidth": 1.2},
 "encoding": {"x": {"field": "t", "type": "quantitative"}, "y": {"datum": 391}, "y2": {"datum": -616}}},
{"data": {"name": "Ac"}, "mark": {"type": "line", "stroke": "#111", "strokeWidth": 1, "interpolate": "monotone"},
 "encoding": {
  "x": {"field": "t", "type": "quantitative", "scale": {"domain": [-47, 2465], "range": [0, 108], "nice": false, "zero": false},
   "axis": {"values": [0,250,500,750,1000,1250,1500,1750,2000,2250], "format": "d", "labelSeparation": -40, "labelExpr": "datum.value % 1000 === 0 ? datum.label : ''", "title": "Time (ms)", "titleY": 30, "titleBaseline": "middle"}},
  "y": {"field": "i", "type": "quantitative", "scale": {"domain": [-616, 391], "range": [158, 13], "nice": false, "zero": false},
   "axis": {"values": [-500,-375,-250,-125,0,125,250,375], "labels": false, "title": null}},
  "detail": {"field": "k", "type": "nominal"}}}
]
},
{
"width": 124, "height": 161,
"view": {"stroke": "black", "strokeWidth": 1.5},
"title": {"text": "(d)", "dx": -42, "offset": -1},
"layer": [
{"data": {"name": "Ad"}, "mark": {"type": "line", "stroke": "black", "strokeWidth": 2},
 "encoding": {
  "x": {"field": "V", "type": "quantitative", "scale": {"domain": [-156.3, 35.6], "nice": false, "zero": false},
   "axis": {"values": [-140,-120,-100,-80,-60,-40,-20,0,20], "format": "d", "labelSeparation": -40, "labelOverlap": false, "labelExpr": "datum.value % 40 === 0 ? datum.label : ''", "title": "V (mV)", "domain": false, "titleY": 26, "titleBaseline": "middle"}},
  "y": {"field": "I", "type": "quantitative", "scale": {"domain": [-11.45, 4.05], "nice": false, "zero": false},
   "axis": {"values": [-10,-7.5,-5,-2.5,0,2.5], "labelSeparation": -40, "labelExpr": "datum.value % 5 === 0 ? datum.label : ''", "title": "I (pA/pF)", "domain": false, "titleX": -28, "titleY": 73.5, "titleBaseline": "middle"}},
  "detail": {"field": "g", "type": "nominal"}}},
{"data": {"values": [{"z":0}]}, "mark": {"type": "rule", "stroke": "black", "strokeWidth": 1.5},
 "encoding": {"x": {"field": "z", "type": "quantitative", "axis": {"values": [-140,-120,-100,-80,-60,-40,-20,0,20], "format": "d", "labelSeparation": -40, "labelOverlap": false, "labelExpr": "datum.value % 40 === 0 ? datum.label : ''", "title": "V (mV)", "domain": false, "titleY": 26, "titleBaseline": "middle"}}}},
{"data": {"values": [{"z":0}]}, "mark": {"type": "rule", "stroke": "black", "strokeWidth": 1.5},
 "encoding": {"y": {"field": "z", "type": "quantitative", "axis": {"values": [-10,-7.5,-5,-2.5,0,2.5], "labelSeparation": -40, "labelExpr": "datum.value % 5 === 0 ? datum.label : ''", "title": "I (pA/pF)", "domain": false, "titleX": -28, "titleY": 73.5, "titleBaseline": "middle"}}}},
{"data": {"name": "Ad"}, "mark": {"type": "rule", "stroke": "black", "strokeWidth": 1.2},
 "encoding": {"x": {"field": "V", "type": "quantitative", "axis": {"values": [-140,-120,-100,-80,-60,-40,-20,0,20], "format": "d", "labelSeparation": -40, "labelOverlap": false, "labelExpr": "datum.value % 40 === 0 ? datum.label : ''", "title": "V (mV)", "domain": false, "titleY": 26, "titleBaseline": "middle"}},
  "y": {"field": "lo", "type": "quantitative", "axis": {"values": [-10,-7.5,-5,-2.5,0,2.5], "labelSeparation": -40, "labelExpr": "datum.value % 5 === 0 ? datum.label : ''", "title": "I (pA/pF)", "domain": false, "titleX": -28, "titleY": 73.5, "titleBaseline": "middle"}}, "y2": {"field": "hi"}}},
{"data": {"name": "Ad"}, "mark": {"type": "point", "filled": true, "strokeWidth": 1.2, "size": 38, "opacity": 1},
 "encoding": {"x": {"field": "V", "type": "quantitative", "axis": {"values": [-140,-120,-100,-80,-60,-40,-20,0,20], "format": "d", "labelSeparation": -40, "labelOverlap": false, "labelExpr": "datum.value % 40 === 0 ? datum.label : ''", "title": "V (mV)", "domain": false, "titleY": 26, "titleBaseline": "middle"}},
  "y": {"field": "I", "type": "quantitative", "axis": {"values": [-10,-7.5,-5,-2.5,0,2.5], "labelSeparation": -40, "labelExpr": "datum.value % 5 === 0 ? datum.label : ''", "title": "I (pA/pF)", "domain": false, "titleX": -28, "titleY": 73.5, "titleBaseline": "middle"}},
  "shape": {"field": "g", "type": "nominal", "scale": {"domain": ["Isotonic", "Hypotonic"], "range": ["circle", "square"]},
   "legend": {"title": null, "orient": "none", "legendX": 450, "legendY": 189, "labelFontSize": 11, "symbolSize": 40, "symbolStrokeWidth": 1.2, "rowPadding": 0, "labelOffset": 10, "padding": 0}},
  "fill": {"field": "g", "type": "nominal", "scale": {"domain": ["Isotonic", "Hypotonic"], "range": ["black", "white"]},
   "legend": {"title": null, "orient": "none", "legendX": 450, "legendY": 189, "labelFontSize": 11, "symbolSize": 40, "symbolStrokeWidth": 1.2, "rowPadding": 0, "labelOffset": 10, "padding": 0}},
  "stroke": {"field": "g", "type": "nominal", "scale": {"domain": ["Isotonic", "Hypotonic"], "range": ["black", "black"]},
   "legend": {"title": null, "orient": "none", "legendX": 450, "legendY": 189, "labelFontSize": 11, "symbolSize": 40, "symbolStrokeWidth": 1.2, "rowPadding": 0, "labelOffset": 10, "padding": 0}}}}
]
},
{
"width": 100, "height": 134,
"layer": [
{"data": {"values": [{"v":40},{"v":20},{"v":0},{"v":-20},{"v":-40},{"v":-60},{"v":-80},{"v":-100},{"v":-120},{"v":-140},{"v":-160}]},
 "mark": {"type": "rule", "stroke": "#222", "strokeWidth": 0.8},
 "encoding": {"x": {"datum": 0, "type": "quantitative", "scale": {"domain": [65, 3783], "range": [0, 171]}, "axis": null}, "x2": {"datum": 2000},
  "y": {"field": "v", "type": "quantitative", "scale": {"domain": [-160, 40], "range": [98, 63]}, "axis": null}}},
{"data": {"values": [{"t":0},{"t":2000}]},
 "mark": {"type": "rule", "stroke": "#222", "strokeWidth": 1},
 "encoding": {"x": {"field": "t", "type": "quantitative", "scale": {"domain": [65, 3783], "range": [0, 171]}, "axis": null},
  "y": {"datum": -160, "type": "quantitative", "scale": {"domain": [-160, 40], "range": [98, 63]}, "axis": null}, "y2": {"datum": 40}}},
{"data": {"values": [{"t":-45,"t2":0},{"t":2000,"t2":2450}]},
 "mark": {"type": "rule", "stroke": "#222", "strokeWidth": 1.2},
 "encoding": {"x": {"field": "t", "type": "quantitative", "scale": {"domain": [65, 3783], "range": [0, 171]}, "axis": null}, "x2": {"field": "t2"},
  "y": {"datum": -60, "type": "quantitative", "scale": {"domain": [-160, 40], "range": [98, 63]}, "axis": null}}},
{"data": {"values": [{"t":-826,"v":0,"s":"(B)"}]},
 "mark": {"type": "text", "align": "left", "baseline": "middle", "fontSize": 15},
 "encoding": {"x": {"field": "t", "type": "quantitative", "scale": {"domain": [65, 3783], "range": [0, 171]}, "axis": null},
  "y": {"field": "v", "type": "quantitative", "scale": {"domain": [-160, 40], "range": [98, 63]}, "axis": null}, "text": {"field": "s"}}},
{"data": {"values": [{"v":40,"s":"+40 mV"},{"v":-60,"s":"−60 mV"},{"v":-160,"s":"−160 mV"}]},
 "mark": {"type": "text", "align": "right", "baseline": "middle", "fontSize": 15},
 "encoding": {"x": {"datum": 3739, "type": "quantitative", "scale": {"domain": [65, 3783], "range": [0, 171]}, "axis": null},
  "y": {"field": "v", "type": "quantitative", "scale": {"domain": [-160, 40], "range": [99, 64]}, "axis": null}, "text": {"field": "s"}}}
],
"resolve": {"scale": {"y": "independent"}}
},
{"width": 1, "height": 1, "data": {"values": []}, "mark": "point"},
{"width": 1, "height": 1, "data": {"values": []}, "mark": "point"},
{"width": 1, "height": 1, "data": {"values": []}, "mark": "point"},
{
"width": 134, "height": 157,
"title": {"text": "(a) Hypotonic", "dx": -40, "offset": 6.5},
"layer": [
{"data": {"values": [{"t":0},{"t":20},{"t":2000}]}, "mark": {"type": "rule", "stroke": "#111", "strokeWidth": 1.2},
 "encoding": {"x": {"field": "t", "type": "quantitative"}, "y": {"datum": 996}, "y2": {"datum": -990}}},
{"data": {"name": "Ba"}, "mark": {"type": "line", "stroke": "#111", "strokeWidth": 1, "interpolate": "monotone"},
 "encoding": {
  "x": {"field": "t", "type": "quantitative", "scale": {"domain": [-25, 2494], "range": [0, 107], "nice": false, "zero": false},
   "axis": {"values": [0,250,500,750,1000,1250,1500,1750,2000,2250], "format": "d", "labelSeparation": -40, "labelExpr": "datum.value % 1000 === 0 ? datum.label : ''", "title": "Time (ms)", "titleY": 29, "titleBaseline": "middle"}},
  "y": {"field": "i", "type": "quantitative", "scale": {"domain": [-990, 996], "range": [157, 8], "nice": false, "zero": false},
   "axis": {"values": [-800,-600,-400,-200,0,200,400,600,800], "labelSeparation": -40, "labelExpr": "datum.value % 800 === 0 ? datum.label : ''", "title": "I (pA)", "titleX": -25.5, "titleY": 82, "titleBaseline": "middle"}},
  "detail": {"field": "k", "type": "nominal"}}}
]
},
{
"width": 129, "height": 157,
"title": {"text": ["(b) Hypotonic", "20 min"], "anchor": "middle", "dx": -28.5, "offset": -10.5},
"layer": [
{"data": {"values": [{"t":0},{"t":2000}]}, "mark": {"type": "rule", "stroke": "#111", "strokeWidth": 1.2},
 "encoding": {"x": {"field": "t", "type": "quantitative"}, "y": {"datum": 996}, "y2": {"datum": -990}}},
{"data": {"name": "Bb"}, "mark": {"type": "line", "stroke": "#111", "strokeWidth": 1, "interpolate": "monotone"},
 "encoding": {
  "x": {"field": "t", "type": "quantitative", "scale": {"domain": [-25, 2470], "range": [0, 106], "nice": false, "zero": false},
   "axis": {"values": [0,250,500,750,1000,1250,1500,1750,2000,2250], "format": "d", "labelSeparation": -40, "labelExpr": "datum.value % 1000 === 0 ? datum.label : ''", "title": "Time (ms)", "titleY": 29, "titleBaseline": "middle"}},
  "y": {"field": "i", "type": "quantitative", "scale": {"domain": [-990, 996], "range": [157, 8], "nice": false, "zero": false},
   "axis": {"values": [-800,-600,-400,-200,0,200,400,600,800], "labels": false, "title": null}},
  "detail": {"field": "k", "type": "nominal"}}}
]
},
{
"width": 158, "height": 157,
"title": {"text": "(c) (a) − (b)", "dx": -19, "offset": 6.5},
"layer": [
{"data": {"values": [{"t":0},{"t":2000}]}, "mark": {"type": "rule", "stroke": "#111", "strokeWidth": 1.2},
 "encoding": {"x": {"field": "t", "type": "quantitative"}, "y": {"datum": 996}, "y2": {"datum": -990}}},
{"data": {"name": "Bc"}, "mark": {"type": "line", "stroke": "#111", "strokeWidth": 1, "interpolate": "monotone"},
 "encoding": {
  "x": {"field": "t", "type": "quantitative", "scale": {"domain": [-25, 2480], "range": [3, 111], "nice": false, "zero": false},
   "axis": {"values": [0,250,500,750,1000,1250,1500,1750,2000,2250], "format": "d", "labelSeparation": -40, "labelExpr": "datum.value % 1000 === 0 ? datum.label : ''", "title": "Time (ms)", "titleY": 29, "titleBaseline": "middle"}},
  "y": {"field": "i", "type": "quantitative", "scale": {"domain": [-990, 996], "range": [157, 8], "nice": false, "zero": false},
   "axis": {"values": [-800,-600,-400,-200,0,200,400,600,800], "labels": false, "title": null, "offset": -3}},
  "detail": {"field": "k", "type": "nominal"}}}
]
},
{
"width": 122, "height": 160,
"view": {"stroke": "black", "strokeWidth": 1.5},
"title": {"text": "(d) (a) − (b)", "dx": -41, "offset": 6.5},
"layer": [
{"data": {"name": "Bd"}, "mark": {"type": "line", "stroke": "black", "strokeWidth": 2, "strokeDash": [6, 3]},
 "encoding": {
  "x": {"field": "V", "type": "quantitative", "scale": {"domain": [-160, 56], "nice": false, "zero": false},
   "axis": {"values": [-140,-120,-100,-80,-60,-40,-20,0,20,40], "format": "d", "labelSeparation": -40, "labelOverlap": false, "labelExpr": "datum.value % 40 === 0 ? datum.label : ''", "title": "V (mV)", "domain": false, "titleY": 28.5, "titleBaseline": "middle"}},
  "y": {"field": "I", "type": "quantitative", "scale": {"domain": [-6, 1.55], "nice": false, "zero": false},
   "axis": {"values": [-6,-5,-4,-3,-2,-1,0,1], "labelSeparation": -40, "labelExpr": "datum.value % 2 === 0 ? datum.label : ''", "title": "I (pA/pF)", "domain": false, "titleX": -27, "titleY": 77, "titleBaseline": "middle"}}}},
{"data": {"values": [{"z":0}]}, "mark": {"type": "rule", "stroke": "black", "strokeWidth": 1.5},
 "encoding": {"x": {"field": "z", "type": "quantitative", "axis": {"values": [-140,-120,-100,-80,-60,-40,-20,0,20,40], "format": "d", "labelSeparation": -40, "labelOverlap": false, "labelExpr": "datum.value % 40 === 0 ? datum.label : ''", "title": "V (mV)", "domain": false, "titleY": 28.5, "titleBaseline": "middle"}}}},
{"data": {"values": [{"z":0}]}, "mark": {"type": "rule", "stroke": "black", "strokeWidth": 1.5},
 "encoding": {"y": {"field": "z", "type": "quantitative", "axis": {"values": [-6,-5,-4,-3,-2,-1,0,1], "labelSeparation": -40, "labelExpr": "datum.value % 2 === 0 ? datum.label : ''", "title": "I (pA/pF)", "domain": false, "titleX": -27, "titleY": 77, "titleBaseline": "middle"}}}},
{"data": {"name": "Bd"}, "mark": {"type": "rule", "stroke": "black", "strokeWidth": 1.2},
 "encoding": {"x": {"field": "V", "type": "quantitative", "axis": {"values": [-140,-120,-100,-80,-60,-40,-20,0,20,40], "format": "d", "labelSeparation": -40, "labelOverlap": false, "labelExpr": "datum.value % 40 === 0 ? datum.label : ''", "title": "V (mV)", "domain": false, "titleY": 28.5, "titleBaseline": "middle"}},
  "y": {"field": "lo", "type": "quantitative", "axis": {"values": [-6,-5,-4,-3,-2,-1,0,1], "labelSeparation": -40, "labelExpr": "datum.value % 2 === 0 ? datum.label : ''", "title": "I (pA/pF)", "domain": false, "titleX": -27, "titleY": 77, "titleBaseline": "middle"}}, "y2": {"field": "hi"}}},
{"data": {"name": "Bd"}, "mark": {"type": "point", "filled": true, "color": "black", "size": 40, "opacity": 1},
 "encoding": {"x": {"field": "V", "type": "quantitative", "axis": {"values": [-140,-120,-100,-80,-60,-40,-20,0,20,40], "format": "d", "labelSeparation": -40, "labelOverlap": false, "labelExpr": "datum.value % 40 === 0 ? datum.label : ''", "title": "V (mV)", "domain": false, "titleY": 28.5, "titleBaseline": "middle"}},
  "y": {"field": "I", "type": "quantitative", "axis": {"values": [-6,-5,-4,-3,-2,-1,0,1], "labelSeparation": -40, "labelExpr": "datum.value % 2 === 0 ? datum.label : ''", "title": "I (pA/pF)", "domain": false, "titleX": -27, "titleY": 77, "titleBaseline": "middle"}}}}
]
}
],
"config": {
 "view": {"stroke": null},
 "font": "Liberation Sans",
 "axis": {"domainColor": "black", "domainWidth": 1.5, "tickColor": "black", "tickWidth": 1, "tickSize": 3, "labelFontSize": 12, "labelColor": "black", "labelPadding": 3, "labelFlush": false, "labelOverlap": false, "titleFontSize": 13, "titleFontWeight": "normal", "titleColor": "black", "grid": false},
 "axisX": {"labelOverlap": false},
 "axisY": {"labelOverlap": false},
 "title": {"fontSize": 15, "fontWeight": "normal", "color": "black", "anchor": "start", "frame": "group", "baseline": "bottom", "lineHeight": 18},
 "legend": {"labelFontSize": 11, "labelColor": "black"},
 "text": {"color": "black"}
}
}
